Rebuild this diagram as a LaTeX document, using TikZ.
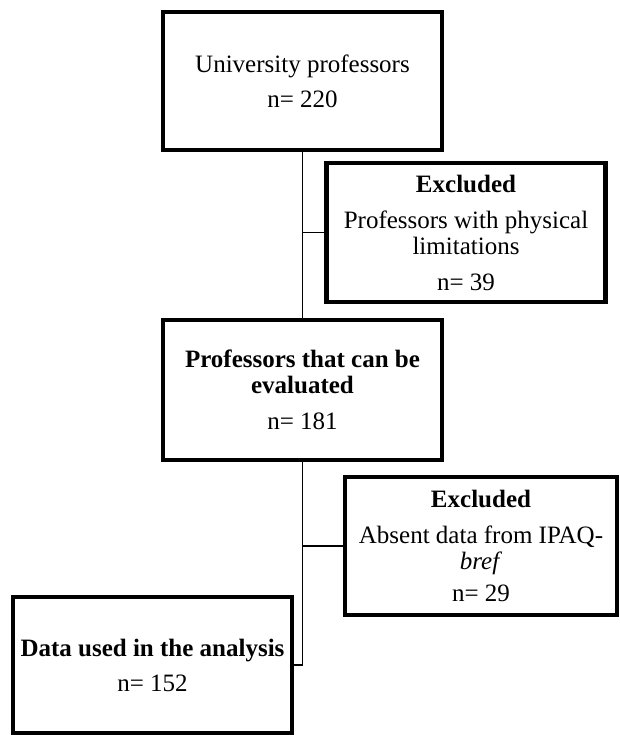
\documentclass[tikz,border=0pt]{standalone}
\usepackage{fontspec}
\setmainfont{Liberation Serif}
\begin{document}
\begin{tikzpicture}[x=1pt,y=-1pt,
  box/.style={draw,rectangle,line width=4.5pt,align=center,inner sep=2pt,
    minimum width=279pt,font=\fontsize{25}{26}\selectfont},
  link/.style={line width=1.2pt}]
\useasboundingbox (0,0) rectangle (619,735);
\node[box,minimum height=138pt] (total) at (302.5,81)
  {University professors\\[9pt] n= 220};
\node[box,minimum height=139pt] (exclA) at (466,232.5)
  {\textbf{Excluded}\\[10pt] Professors with physical\\ limitations\\[10pt] n= 39};
\node[box,minimum height=140pt] (eval) at (302.5,390)
  {\textbf{Professors that can be}\\ \textbf{evaluated}\\[10pt] n= 181};
\node[box,minimum width=272pt,minimum height=138pt] (exclB) at (481,546)
  {\textbf{Excluded}\\[10pt] Absent data from IPAQ-\\ \textit{bref}\\[6pt] n= 29};
\node[box,minimum height=136pt] (used) at (152.5,665)
  {\textbf{Data used in the analysis}\\[9pt] n= 152};

\draw[link] (total) -- (eval);
\draw[link] (total.south |- exclA.west) -- (exclA.west);
\draw[link] (eval.south) |- (used.east);
\draw[link] (eval.south |- exclB.west) -- (exclB.west);
\end{tikzpicture}
\end{document}
